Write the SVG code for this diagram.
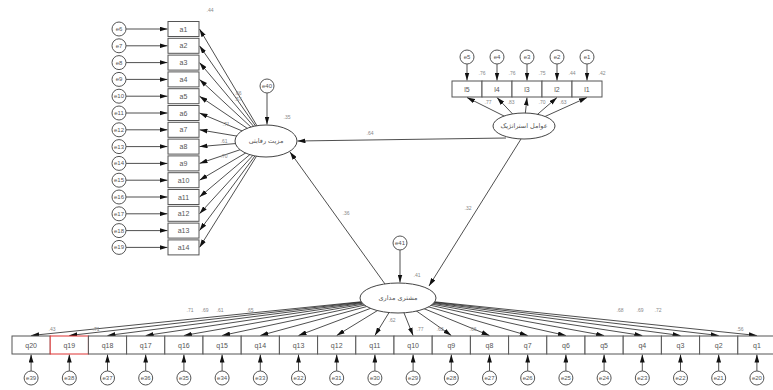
<svg xmlns="http://www.w3.org/2000/svg" width="773" height="390" viewBox="0 0 773 390">
<style>
.bx{fill:#fff;stroke:#555;stroke-width:1}
.rd{fill:#fff;stroke:#d33;stroke-width:1}
.er{fill:#fff;stroke:#555;stroke-width:1}
.lv{fill:#fff;stroke:#444;stroke-width:1}
.ln{stroke:#222;stroke-width:0.8;fill:none}
.t{font-family:"Liberation Sans",Arial,sans-serif;font-size:7px;fill:#555;text-anchor:middle;dominant-baseline:central}
.te{font-family:"Liberation Sans",Arial,sans-serif;font-size:6px;fill:#555;text-anchor:middle;dominant-baseline:central}
.tf{font-family:"DejaVu Sans",sans-serif;font-size:6.5px;fill:#555;text-anchor:middle;dominant-baseline:central}
.n{font-family:"Liberation Sans",Arial,sans-serif;font-size:5px;fill:#888;text-anchor:middle}
</style>
<defs>
<marker id="ah" viewBox="0 0 10 6" refX="10" refY="3" markerWidth="8" markerHeight="5" orient="auto" markerUnits="userSpaceOnUse"><path d="M0,0 L10,3 L0,6 z" fill="#111"/></marker>
</defs>
<g id="connectors" class="ln" marker-end="url(#ah)">
<!-- left errors to a-items -->
<line x1="126" y1="29" x2="167.5" y2="29"/>
<line x1="126" y1="45.8" x2="167.5" y2="45.8"/>
<line x1="126" y1="62.6" x2="167.5" y2="62.6"/>
<line x1="126" y1="79.4" x2="167.5" y2="79.4"/>
<line x1="126" y1="96.2" x2="167.5" y2="96.2"/>
<line x1="126" y1="113" x2="167.5" y2="113"/>
<line x1="126" y1="129.8" x2="167.5" y2="129.8"/>
<line x1="126" y1="146.6" x2="167.5" y2="146.6"/>
<line x1="126" y1="163.4" x2="167.5" y2="163.4"/>
<line x1="126" y1="180.2" x2="167.5" y2="180.2"/>
<line x1="126" y1="197" x2="167.5" y2="197"/>
<line x1="126" y1="213.8" x2="167.5" y2="213.8"/>
<line x1="126" y1="230.6" x2="167.5" y2="230.6"/>
<line x1="126" y1="247.4" x2="167.5" y2="247.4"/>
<!-- latent 1 to a-items -->
<line x1="266" y1="141" x2="199.5" y2="29"/>
<line x1="266" y1="141" x2="199.5" y2="45.8"/>
<line x1="266" y1="141" x2="199.5" y2="62.6"/>
<line x1="266" y1="141" x2="199.5" y2="79.4"/>
<line x1="266" y1="141" x2="199.5" y2="96.2"/>
<line x1="266" y1="141" x2="199.5" y2="113"/>
<line x1="266" y1="141" x2="199.5" y2="129.8"/>
<line x1="266" y1="141" x2="199.5" y2="146.6"/>
<line x1="266" y1="141" x2="199.5" y2="163.4"/>
<line x1="266" y1="141" x2="199.5" y2="180.2"/>
<line x1="266" y1="141" x2="199.5" y2="197"/>
<line x1="266" y1="141" x2="199.5" y2="213.8"/>
<line x1="266" y1="141" x2="199.5" y2="230.6"/>
<line x1="266" y1="141" x2="199.5" y2="247.4"/>
<!-- e40 -->
<line x1="267" y1="93" x2="267" y2="124.5"/>
<!-- top right -->
<line x1="467" y1="64" x2="467" y2="80.5"/>
<line x1="497" y1="64" x2="497" y2="80.5"/>
<line x1="527" y1="64" x2="527" y2="80.5"/>
<line x1="557" y1="64" x2="557" y2="80.5"/>
<line x1="587" y1="64" x2="587" y2="80.5"/>
<line x1="524" y1="126" x2="467" y2="97.5"/>
<line x1="524" y1="126" x2="497" y2="97.5"/>
<line x1="524" y1="126" x2="527" y2="97.5"/>
<line x1="524" y1="126" x2="557" y2="97.5"/>
<line x1="524" y1="126" x2="587" y2="97.5"/>
<!-- structural paths -->
<line x1="506" y1="138" x2="297.5" y2="141"/>
<line x1="521" y1="139" x2="429" y2="286"/>
<line x1="385" y1="284" x2="290" y2="152"/>
<!-- e41 -->
<line x1="400" y1="250" x2="400" y2="282.5"/>
<!-- bottom latent to q-items -->
<line x1="398" y1="298" x2="31.1" y2="335.5"/>
<line x1="398" y1="298" x2="69.3" y2="335.5"/>
<line x1="398" y1="298" x2="107.5" y2="335.5"/>
<line x1="398" y1="298" x2="145.7" y2="335.5"/>
<line x1="398" y1="298" x2="183.9" y2="335.5"/>
<line x1="398" y1="298" x2="222.1" y2="335.5"/>
<line x1="398" y1="298" x2="260.3" y2="335.5"/>
<line x1="398" y1="298" x2="298.5" y2="335.5"/>
<line x1="398" y1="298" x2="336.7" y2="335.5"/>
<line x1="398" y1="298" x2="374.9" y2="335.5"/>
<line x1="398" y1="298" x2="413.1" y2="335.5"/>
<line x1="398" y1="298" x2="451.3" y2="335.5"/>
<line x1="398" y1="298" x2="489.5" y2="335.5"/>
<line x1="398" y1="298" x2="527.7" y2="335.5"/>
<line x1="398" y1="298" x2="565.9" y2="335.5"/>
<line x1="398" y1="298" x2="604.1" y2="335.5"/>
<line x1="398" y1="298" x2="642.3" y2="335.5"/>
<line x1="398" y1="298" x2="680.5" y2="335.5"/>
<line x1="398" y1="298" x2="718.7" y2="335.5"/>
<line x1="398" y1="298" x2="756.9" y2="335.5"/>
<!-- bottom errors to q-items -->
<line x1="31.1" y1="371" x2="31.1" y2="354.5"/>
<line x1="69.3" y1="371" x2="69.3" y2="354.5"/>
<line x1="107.5" y1="371" x2="107.5" y2="354.5"/>
<line x1="145.7" y1="371" x2="145.7" y2="354.5"/>
<line x1="183.9" y1="371" x2="183.9" y2="354.5"/>
<line x1="222.1" y1="371" x2="222.1" y2="354.5"/>
<line x1="260.3" y1="371" x2="260.3" y2="354.5"/>
<line x1="298.5" y1="371" x2="298.5" y2="354.5"/>
<line x1="336.7" y1="371" x2="336.7" y2="354.5"/>
<line x1="374.9" y1="371" x2="374.9" y2="354.5"/>
<line x1="413.1" y1="371" x2="413.1" y2="354.5"/>
<line x1="451.3" y1="371" x2="451.3" y2="354.5"/>
<line x1="489.5" y1="371" x2="489.5" y2="354.5"/>
<line x1="527.7" y1="371" x2="527.7" y2="354.5"/>
<line x1="565.9" y1="371" x2="565.9" y2="354.5"/>
<line x1="604.1" y1="371" x2="604.1" y2="354.5"/>
<line x1="642.3" y1="371" x2="642.3" y2="354.5"/>
<line x1="680.5" y1="371" x2="680.5" y2="354.5"/>
<line x1="718.7" y1="371" x2="718.7" y2="354.5"/>
<line x1="756.9" y1="371" x2="756.9" y2="354.5"/>
</g>
<g id="path-labels">
<text class="n" x="370" y="135">.64</text>
<text class="n" x="346" y="215">.36</text>
<text class="n" x="468" y="210">.32</text>
<text class="n" x="287" y="119">.35</text>
<text class="n" x="417" y="277">.41</text>
<text class="n" x="210" y="12">.44</text>
<text class="n" x="238" y="95">.66</text>
<text class="n" x="238" y="101">.57</text>
<text class="n" x="226" y="126">.71</text>
<text class="n" x="224" y="143">.61</text>
<text class="n" x="224" y="158">.70</text>
<text class="n" x="482" y="75">.76</text>
<text class="n" x="512" y="75">.76</text>
<text class="n" x="542" y="75">.75</text>
<text class="n" x="572" y="75">.44</text>
<text class="n" x="602" y="75">.42</text>
<text class="n" x="488" y="104">.77</text>
<text class="n" x="511" y="104">.83</text>
<text class="n" x="542" y="104">.70</text>
<text class="n" x="563" y="104">.63</text>
<text class="n" x="52" y="331">.43</text>
<text class="n" x="96" y="331">.71</text>
<text class="n" x="190" y="312">.71</text>
<text class="n" x="205" y="312">.69</text>
<text class="n" x="220" y="312">.61</text>
<text class="n" x="250" y="312">.65</text>
<text class="n" x="392" y="322">.62</text>
<text class="n" x="420" y="331">.77</text>
<text class="n" x="440" y="331">.63</text>
<text class="n" x="473" y="331">.66</text>
<text class="n" x="620" y="312">.68</text>
<text class="n" x="640" y="312">.69</text>
<text class="n" x="658" y="312">.72</text>
<text class="n" x="740" y="331">.56</text>
</g>
<g id="nodes">
<g id="lat-advantage"><ellipse class="lv" cx="266" cy="141" rx="31" ry="16"/><text class="tf" x="266" y="141">مزیت رقابتی</text></g>
<g id="lat-strategic"><ellipse class="lv" cx="524" cy="126" rx="31" ry="13"/><text class="tf" x="524" y="126">عوامل استراتژیک</text></g>
<g id="lat-customer"><ellipse class="lv" cx="398" cy="298" rx="38" ry="15"/><text class="tf" x="398" y="298">مشتری مداری</text></g>
<g id="e40"><circle class="er" cx="267" cy="86" r="7"/><text class="te" x="267" y="86">e40</text></g>
<g id="e41"><circle class="er" cx="400" cy="243" r="7"/><text class="te" x="400" y="243">e41</text></g>
<g id="a1"><rect class="bx" x="168" y="21.5" width="31" height="15"/><text class="t" x="183.5" y="29">a1</text></g>
<g id="a2"><rect class="bx" x="168" y="38.3" width="31" height="15"/><text class="t" x="183.5" y="45.8">a2</text></g>
<g id="a3"><rect class="bx" x="168" y="55.1" width="31" height="15"/><text class="t" x="183.5" y="62.6">a3</text></g>
<g id="a4"><rect class="bx" x="168" y="71.9" width="31" height="15"/><text class="t" x="183.5" y="79.4">a4</text></g>
<g id="a5"><rect class="bx" x="168" y="88.7" width="31" height="15"/><text class="t" x="183.5" y="96.2">a5</text></g>
<g id="a6"><rect class="bx" x="168" y="105.5" width="31" height="15"/><text class="t" x="183.5" y="113">a6</text></g>
<g id="a7"><rect class="bx" x="168" y="122.3" width="31" height="15"/><text class="t" x="183.5" y="129.8">a7</text></g>
<g id="a8"><rect class="bx" x="168" y="139.1" width="31" height="15"/><text class="t" x="183.5" y="146.6">a8</text></g>
<g id="a9"><rect class="bx" x="168" y="155.9" width="31" height="15"/><text class="t" x="183.5" y="163.4">a9</text></g>
<g id="a10"><rect class="bx" x="168" y="172.7" width="31" height="15"/><text class="t" x="183.5" y="180.2">a10</text></g>
<g id="a11"><rect class="bx" x="168" y="189.5" width="31" height="15"/><text class="t" x="183.5" y="197">a11</text></g>
<g id="a12"><rect class="bx" x="168" y="206.3" width="31" height="15"/><text class="t" x="183.5" y="213.8">a12</text></g>
<g id="a13"><rect class="bx" x="168" y="223.1" width="31" height="15"/><text class="t" x="183.5" y="230.6">a13</text></g>
<g id="a14"><rect class="bx" x="168" y="239.9" width="31" height="15"/><text class="t" x="183.5" y="247.4">a14</text></g>
<g id="e6"><circle class="er" cx="119" cy="29" r="7"/><text class="te" x="119" y="29">e6</text></g>
<g id="e7"><circle class="er" cx="119" cy="45.8" r="7"/><text class="te" x="119" y="45.8">e7</text></g>
<g id="e8"><circle class="er" cx="119" cy="62.6" r="7"/><text class="te" x="119" y="62.6">e8</text></g>
<g id="e9"><circle class="er" cx="119" cy="79.4" r="7"/><text class="te" x="119" y="79.4">e9</text></g>
<g id="e10"><circle class="er" cx="119" cy="96.2" r="7"/><text class="te" x="119" y="96.2">e10</text></g>
<g id="e11"><circle class="er" cx="119" cy="113" r="7"/><text class="te" x="119" y="113">e11</text></g>
<g id="e12"><circle class="er" cx="119" cy="129.8" r="7"/><text class="te" x="119" y="129.8">e12</text></g>
<g id="e13"><circle class="er" cx="119" cy="146.6" r="7"/><text class="te" x="119" y="146.6">e13</text></g>
<g id="e14"><circle class="er" cx="119" cy="163.4" r="7"/><text class="te" x="119" y="163.4">e14</text></g>
<g id="e15"><circle class="er" cx="119" cy="180.2" r="7"/><text class="te" x="119" y="180.2">e15</text></g>
<g id="e16"><circle class="er" cx="119" cy="197" r="7"/><text class="te" x="119" y="197">e16</text></g>
<g id="e17"><circle class="er" cx="119" cy="213.8" r="7"/><text class="te" x="119" y="213.8">e17</text></g>
<g id="e18"><circle class="er" cx="119" cy="230.6" r="7"/><text class="te" x="119" y="230.6">e18</text></g>
<g id="e19"><circle class="er" cx="119" cy="247.4" r="7"/><text class="te" x="119" y="247.4">e19</text></g>
<g id="l5"><rect class="bx" x="452" y="81" width="30" height="16"/><text class="t" x="467" y="89">l5</text></g>
<g id="l4"><rect class="bx" x="482" y="81" width="30" height="16"/><text class="t" x="497" y="89">l4</text></g>
<g id="l3"><rect class="bx" x="512" y="81" width="30" height="16"/><text class="t" x="527" y="89">l3</text></g>
<g id="l2"><rect class="bx" x="542" y="81" width="30" height="16"/><text class="t" x="557" y="89">l2</text></g>
<g id="l1"><rect class="bx" x="572" y="81" width="30" height="16"/><text class="t" x="587" y="89">l1</text></g>
<g id="e5"><circle class="er" cx="467" cy="57" r="7"/><text class="te" x="467" y="57">e5</text></g>
<g id="e4"><circle class="er" cx="497" cy="57" r="7"/><text class="te" x="497" y="57">e4</text></g>
<g id="e3"><circle class="er" cx="527" cy="57" r="7"/><text class="te" x="527" y="57">e3</text></g>
<g id="e2"><circle class="er" cx="557" cy="57" r="7"/><text class="te" x="557" y="57">e2</text></g>
<g id="e1"><circle class="er" cx="587" cy="57" r="7"/><text class="te" x="587" y="57">e1</text></g>
<g id="q20"><rect class="bx" x="12" y="336" width="38.2" height="18"/><text class="t" x="31.1" y="345">q20</text></g>
<g id="q19"><rect class="rd" x="50.2" y="336" width="38.2" height="18"/><text class="t" x="69.3" y="345">q19</text></g>
<g id="q18"><rect class="bx" x="88.4" y="336" width="38.2" height="18"/><text class="t" x="107.5" y="345">q18</text></g>
<g id="q17"><rect class="bx" x="126.6" y="336" width="38.2" height="18"/><text class="t" x="145.7" y="345">q17</text></g>
<g id="q16"><rect class="bx" x="164.8" y="336" width="38.2" height="18"/><text class="t" x="183.9" y="345">q16</text></g>
<g id="q15"><rect class="bx" x="203" y="336" width="38.2" height="18"/><text class="t" x="222.1" y="345">q15</text></g>
<g id="q14"><rect class="bx" x="241.2" y="336" width="38.2" height="18"/><text class="t" x="260.3" y="345">q14</text></g>
<g id="q13"><rect class="bx" x="279.4" y="336" width="38.2" height="18"/><text class="t" x="298.5" y="345">q13</text></g>
<g id="q12"><rect class="bx" x="317.6" y="336" width="38.2" height="18"/><text class="t" x="336.7" y="345">q12</text></g>
<g id="q11"><rect class="bx" x="355.8" y="336" width="38.2" height="18"/><text class="t" x="374.9" y="345">q11</text></g>
<g id="q10"><rect class="bx" x="394" y="336" width="38.2" height="18"/><text class="t" x="413.1" y="345">q10</text></g>
<g id="q9"><rect class="bx" x="432.2" y="336" width="38.2" height="18"/><text class="t" x="451.3" y="345">q9</text></g>
<g id="q8"><rect class="bx" x="470.4" y="336" width="38.2" height="18"/><text class="t" x="489.5" y="345">q8</text></g>
<g id="q7"><rect class="bx" x="508.6" y="336" width="38.2" height="18"/><text class="t" x="527.7" y="345">q7</text></g>
<g id="q6"><rect class="bx" x="546.8" y="336" width="38.2" height="18"/><text class="t" x="565.9" y="345">q6</text></g>
<g id="q5"><rect class="bx" x="585" y="336" width="38.2" height="18"/><text class="t" x="604.1" y="345">q5</text></g>
<g id="q4"><rect class="bx" x="623.2" y="336" width="38.2" height="18"/><text class="t" x="642.3" y="345">q4</text></g>
<g id="q3"><rect class="bx" x="661.4" y="336" width="38.2" height="18"/><text class="t" x="680.5" y="345">q3</text></g>
<g id="q2"><rect class="bx" x="699.6" y="336" width="38.2" height="18"/><text class="t" x="718.7" y="345">q2</text></g>
<g id="q1"><rect class="bx" x="737.8" y="336" width="38.2" height="18"/><text class="t" x="756.9" y="345">q1</text></g>
<g id="e39"><circle class="er" cx="31.1" cy="378" r="7"/><text class="te" x="31.1" y="378">e39</text></g>
<g id="e38"><circle class="er" cx="69.3" cy="378" r="7"/><text class="te" x="69.3" y="378">e38</text></g>
<g id="e37"><circle class="er" cx="107.5" cy="378" r="7"/><text class="te" x="107.5" y="378">e37</text></g>
<g id="e36"><circle class="er" cx="145.7" cy="378" r="7"/><text class="te" x="145.7" y="378">e36</text></g>
<g id="e35"><circle class="er" cx="183.9" cy="378" r="7"/><text class="te" x="183.9" y="378">e35</text></g>
<g id="e34"><circle class="er" cx="222.1" cy="378" r="7"/><text class="te" x="222.1" y="378">e34</text></g>
<g id="e33"><circle class="er" cx="260.3" cy="378" r="7"/><text class="te" x="260.3" y="378">e33</text></g>
<g id="e32"><circle class="er" cx="298.5" cy="378" r="7"/><text class="te" x="298.5" y="378">e32</text></g>
<g id="e31"><circle class="er" cx="336.7" cy="378" r="7"/><text class="te" x="336.7" y="378">e31</text></g>
<g id="e30"><circle class="er" cx="374.9" cy="378" r="7"/><text class="te" x="374.9" y="378">e30</text></g>
<g id="e29"><circle class="er" cx="413.1" cy="378" r="7"/><text class="te" x="413.1" y="378">e29</text></g>
<g id="e28"><circle class="er" cx="451.3" cy="378" r="7"/><text class="te" x="451.3" y="378">e28</text></g>
<g id="e27"><circle class="er" cx="489.5" cy="378" r="7"/><text class="te" x="489.5" y="378">e27</text></g>
<g id="e26"><circle class="er" cx="527.7" cy="378" r="7"/><text class="te" x="527.7" y="378">e26</text></g>
<g id="e25"><circle class="er" cx="565.9" cy="378" r="7"/><text class="te" x="565.9" y="378">e25</text></g>
<g id="e24"><circle class="er" cx="604.1" cy="378" r="7"/><text class="te" x="604.1" y="378">e24</text></g>
<g id="e23"><circle class="er" cx="642.3" cy="378" r="7"/><text class="te" x="642.3" y="378">e23</text></g>
<g id="e22"><circle class="er" cx="680.5" cy="378" r="7"/><text class="te" x="680.5" y="378">e22</text></g>
<g id="e21"><circle class="er" cx="718.7" cy="378" r="7"/><text class="te" x="718.7" y="378">e21</text></g>
<g id="e20"><circle class="er" cx="756.9" cy="378" r="7"/><text class="te" x="756.9" y="378">e20</text></g>
</g>
</svg>
